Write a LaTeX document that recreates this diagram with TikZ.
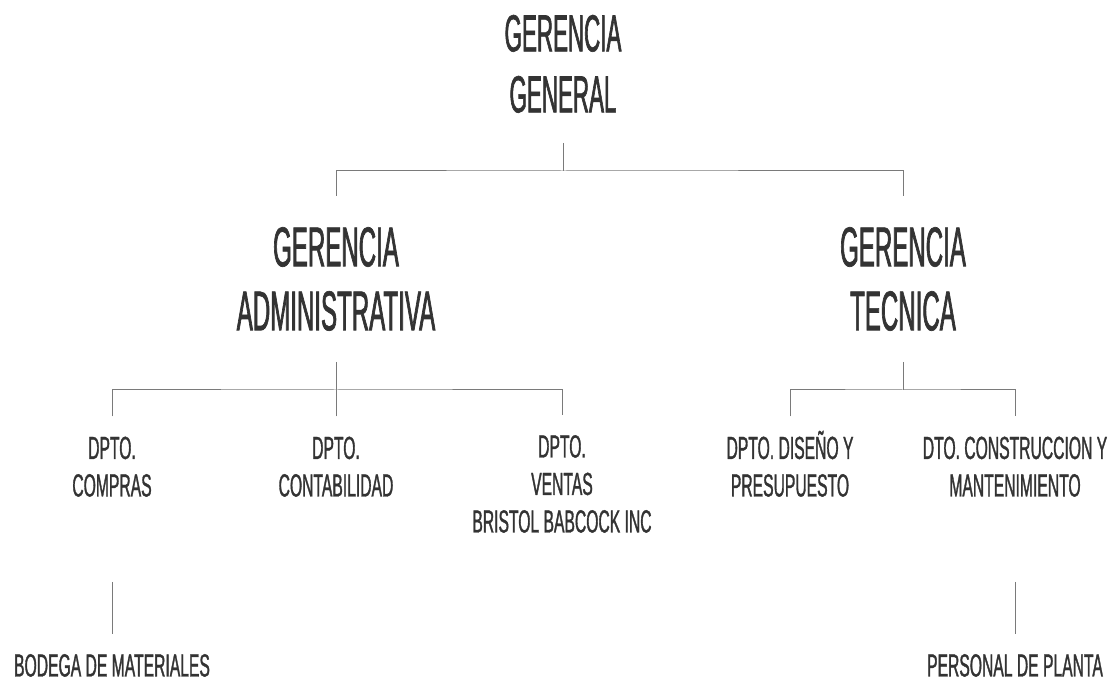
\documentclass[tikz,border=0pt]{standalone}
\usepackage{fontspec}
\setmainfont{Liberation Sans}
\newfontfamily\bigfont{Liberation Sans}[FakeStretch=0.43, FakeBold=1.2]
\newfontfamily\smallfont{Liberation Sans}[FakeStretch=0.49, FakeBold=1]
\usetikzlibrary{calc}
\definecolor{textgray}{HTML}{333333}
\definecolor{linegray}{HTML}{7A7A7A}
\tikzstyle{topbox} = [align=center, inner sep=0pt, anchor=south, text=textgray, font=\bigfont\fontsize{52}{61}\selectfont]
\tikzstyle{mgrbox} = [align=center, inner sep=0pt, anchor=south, text=textgray, font=\bigfont\fontsize{56}{64}\selectfont]
\tikzstyle{deptbox} = [align=center, inner sep=0pt, anchor=south, text=textgray, font=\smallfont\fontsize{32}{37.5}\selectfont]
\tikzstyle{link} = [draw=linegray, line width=1pt]
\begin{document}
\begin{tikzpicture}[x=1pt, y=1pt]
  \useasboundingbox (0,0) rectangle (1120,688);
  \node (gg) [topbox] at (563,575) {GERENCIA\\GENERAL};
  \node (ga) [mgrbox] at (336,357) {GERENCIA\\ADMINISTRATIVA};
  \node (gt) [mgrbox] at (903,357) {GERENCIA\\TECNICA};
  \node (compras) [deptbox] at (112,191) {DPTO.\\COMPRAS};
  \node (contab) [deptbox] at (336,191) {DPTO.\\CONTABILIDAD};
  \node (ventas) [deptbox] at (562,155) {DPTO.\\VENTAS\\BRISTOL BABCOCK INC};
  \node (diseno) [deptbox] at (790,191) {DPTO. DISEÑO Y\\PRESUPUESTO};
  \node (constr) [deptbox] at (1015,191) {DTO. CONSTRUCCION Y\\MANTENIMIENTO};
  \node (bodega) [deptbox] at (112,11) {BODEGA DE MATERIALES};
  \node (personal) [deptbox] at (1015,11) {PERSONAL DE PLANTA};
  % gerencia general
  \draw [link] ([yshift=-30pt]gg.south) -- ++(0,-28) coordinate (gbus);
  \draw [link] ([yshift=31pt]ga.north) |- (gbus) -| ([yshift=31pt]gt.north);
  % gerencia administrativa
  \draw [link] ([yshift=-31pt]ga.south) -- ++(0,-28) coordinate (abus);
  \draw [link] ([yshift=20pt]compras.north) |- (abus) -| ([yshift=20pt]ventas.north);
  \draw [link] ([yshift=20pt]contab.north) -- (abus);
  % gerencia tecnica
  \draw [link] ([yshift=-31pt]gt.south) -- ++(0,-28) coordinate (tbus);
  \draw [link] ([yshift=20pt]constr.north -| diseno.north) |- (tbus) -| ([yshift=20pt]constr.north);
  % bodega y planta
  \draw [link] ([yshift=-85pt]compras.south) -- ([yshift=20pt]bodega.north);
  \draw [link] ([yshift=-85pt]constr.south) -- ([yshift=20pt]personal.north);
\end{tikzpicture}
\end{document}
